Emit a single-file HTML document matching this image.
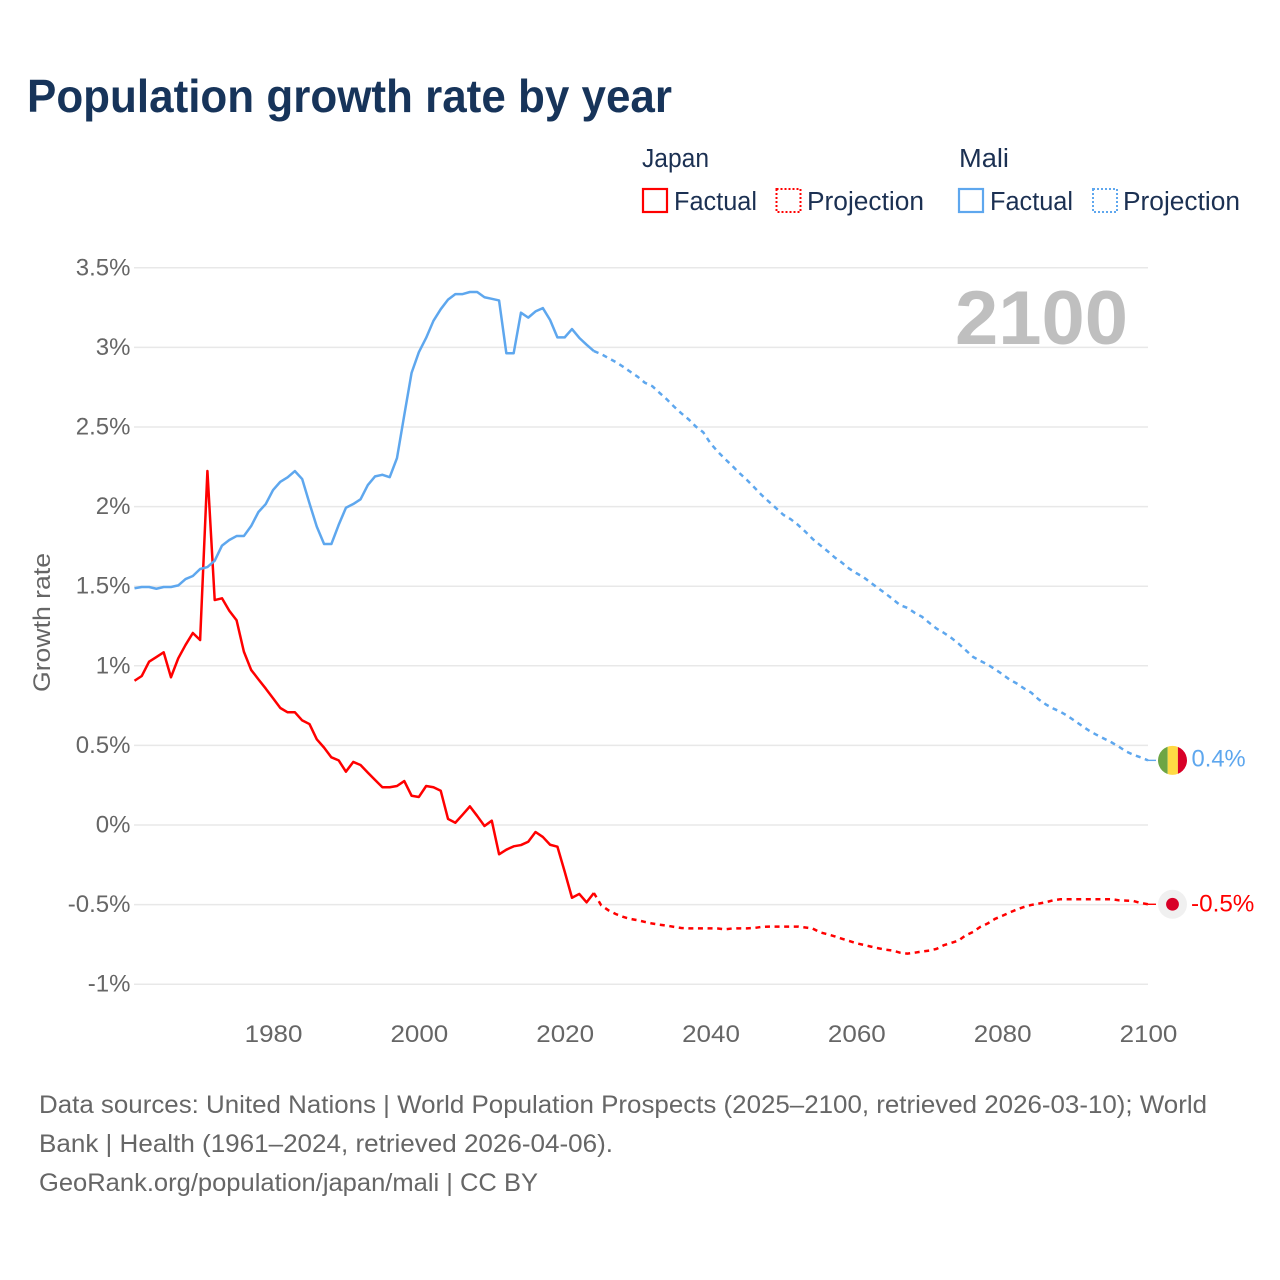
<!DOCTYPE html>
<html lang="en">
<head>
<meta charset="utf-8">
<title>Population growth rate by year</title>
<style>
html,body{margin:0;padding:0;background:#fff;}
svg{display:block;font-family:"Liberation Sans",sans-serif;}
</style>
</head>
<body>
<svg id="chart" xmlns="http://www.w3.org/2000/svg" width="1280" height="1280" viewBox="0 0 1280 1280">
  <rect x="0" y="0" width="1280" height="1280" fill="#fff"/>
  <text class="fit" x="27" y="112" font-size="46" font-weight="700" fill="#17345a" textLength="645" lengthAdjust="spacingAndGlyphs">Population growth rate by year</text>

  <g font-size="25.5" fill="#1b3052">
    <text x="642" y="167" textLength="67" lengthAdjust="spacingAndGlyphs">Japan</text>
    <rect x="643" y="189" width="24" height="23" fill="none" stroke="#ff0000" stroke-width="2.2"/>
    <text x="674" y="210" textLength="83" lengthAdjust="spacingAndGlyphs">Factual</text>
    <rect x="776.5" y="189" width="24" height="23" fill="none" stroke="#ff0000" stroke-width="2" stroke-dasharray="2 2"/>
    <text x="807" y="210" textLength="117" lengthAdjust="spacingAndGlyphs">Projection</text>
    <text x="959" y="167" textLength="50" lengthAdjust="spacingAndGlyphs">Mali</text>
    <rect x="959" y="189" width="24" height="23" fill="none" stroke="#5ea7ee" stroke-width="2.2"/>
    <text x="990" y="210" textLength="83" lengthAdjust="spacingAndGlyphs">Factual</text>
    <rect x="1093" y="189" width="24" height="23" fill="none" stroke="#5ea7ee" stroke-width="2" stroke-dasharray="2 2"/>
    <text x="1123" y="210" textLength="117" lengthAdjust="spacingAndGlyphs">Projection</text>
  </g>

  <g id="grid"></g>
  <g id="yticks" font-size="24.5" fill="#666"></g>
  <g id="xticks" font-size="24.5" fill="#666"></g>

  <text transform="translate(50,622.5) rotate(-90)" text-anchor="middle" font-size="24" fill="#666" textLength="139" lengthAdjust="spacingAndGlyphs">Growth rate</text>

  <text x="955" y="344" font-size="76" font-weight="700" fill="#bfbfbf" textLength="173" lengthAdjust="spacingAndGlyphs">2100</text>

  <g id="series"></g>
  <g id="markers"></g>

  <g font-size="25" fill="#666">
    <text x="39" y="1113" textLength="1168" lengthAdjust="spacingAndGlyphs">Data sources: United Nations | World Population Prospects (2025–2100, retrieved 2026-03-10); World</text>
    <text x="39" y="1152" textLength="574" lengthAdjust="spacingAndGlyphs">Bank | Health (1961–2024, retrieved 2026-04-06).</text>
    <text x="39" y="1191" textLength="499" lengthAdjust="spacingAndGlyphs">GeoRank.org/population/japan/mali | CC BY</text>
  </g>
</svg>
<script>
const firstFactualYear = 1961;
const firstProjectionYear = 2025;
const xTickLabels = [1980, 2000, 2020, 2040, 2060, 2080, 2100];
const yTickValues = [3.5, 3, 2.5, 2, 1.5, 1, 0.5, 0, -0.5, -1];
const yTickLabels = ['3.5%', '3%', '2.5%', '2%', '1.5%', '1%', '0.5%', '0%', '-0.5%', '-1%'];
const endLabels = ['-0.5%', '0.4%'];

const japanFactual = [
  0.906,0.936,1.026,1.055,1.085,0.928,1.047,1.131,1.206,1.162,
  2.224,1.413,1.424,1.346,1.286,1.089,0.974,0.915,0.857,0.796,
  0.735,0.708,0.708,0.657,0.634,0.538,0.486,0.425,0.406,0.335,
  0.396,0.377,0.329,0.283,0.237,0.237,0.245,0.276,0.184,0.176,
  0.245,0.237,0.215,0.038,0.014,0.065,0.117,0.057,-0.006,0.027,
  -0.184,-0.155,-0.134,-0.126,-0.105,-0.044,-0.075,-0.124,-0.136,-0.293,
  -0.457,-0.433,-0.486,-0.427
];
const japanProjection = [
  -0.504,-0.536,-0.559,-0.577,-0.59,-0.598,-0.609,-0.619,-0.626,-0.632,
  -0.64,-0.647,-0.649,-0.649,-0.649,-0.649,-0.65,-0.655,-0.65,-0.649,
  -0.649,-0.647,-0.64,-0.638,-0.638,-0.638,-0.638,-0.638,-0.644,-0.65,
  -0.674,-0.686,-0.699,-0.714,-0.728,-0.743,-0.753,-0.764,-0.774,-0.783,
  -0.789,-0.802,-0.808,-0.802,-0.795,-0.789,-0.778,-0.755,-0.741,-0.726,
  -0.693,-0.672,-0.64,-0.619,-0.59,-0.571,-0.55,-0.531,-0.515,-0.502,
  -0.494,-0.485,-0.473,-0.466,-0.466,-0.466,-0.466,-0.466,-0.466,-0.466,
  -0.466,-0.473,-0.475,-0.477,-0.49,-0.498
];
const maliFactual = [
  1.487,1.495,1.495,1.484,1.495,1.495,1.505,1.545,1.564,1.608,
  1.62,1.66,1.755,1.79,1.815,1.815,1.878,1.966,2.016,2.104,
  2.156,2.184,2.223,2.173,2.02,1.874,1.765,1.765,1.885,1.993,
  2.016,2.046,2.135,2.19,2.2,2.185,2.305,2.575,2.84,2.97,
  3.06,3.167,3.24,3.3,3.335,3.335,3.348,3.348,3.315,3.305,
  3.295,2.963,2.963,3.218,3.187,3.226,3.247,3.172,3.063,3.063,
  3.115,3.06,3.017,2.977
];
const maliProjection = [
  2.958,2.933,2.908,2.879,2.847,2.816,2.778,2.757,2.715,2.674,
  2.628,2.586,2.548,2.502,2.467,2.397,2.345,2.299,2.255,2.209,
  2.167,2.121,2.073,2.031,1.99,1.948,1.921,1.885,1.843,1.797,
  1.759,1.722,1.682,1.649,1.611,1.582,1.556,1.521,1.487,1.454,
  1.418,1.381,1.364,1.333,1.308,1.27,1.234,1.207,1.176,1.14,
  1.098,1.056,1.031,1.008,0.979,0.948,0.914,0.889,0.858,0.831,
  0.789,0.757,0.732,0.711,0.684,0.653,0.621,0.59,0.565,0.542,
  0.519,0.492,0.462,0.441,0.425,0.406
];

const NS = 'http://www.w3.org/2000/svg';
const RED = '#ff0000';
const BLUE = '#5ea7ee';
const xScale = function (year) { return 134.5 + (year - 1961) * (1148 - 134.5) / (2100 - 1961); };
const yScale = function (value) { return 825 - value * 159.2; };

function make(tag, attrs, parent) {
  const el = document.createElementNS(NS, tag);
  for (const k in attrs) el.setAttribute(k, attrs[k]);
  parent.appendChild(el);
  return el;
}
function pathFrom(values, startYear) {
  return values.map(function (v, i) {
    return (i ? 'L' : 'M') + xScale(startYear + i).toFixed(2) + ' ' + yScale(v).toFixed(2);
  }).join('');
}
function fitWidth(el, factor) {
  el.setAttribute('textLength', (el.getComputedTextLength() * factor).toFixed(1));
  el.setAttribute('lengthAdjust', 'spacingAndGlyphs');
}

const grid = document.getElementById('grid');
const yticks = document.getElementById('yticks');
const xticks = document.getElementById('xticks');
const series = document.getElementById('series');
const markers = document.getElementById('markers');

yTickValues.forEach(function (v, i) {
  const line = make('line', {x1: 134, x2: 1148, y1: yScale(v), y2: yScale(v), stroke: '#e8e8e8', 'stroke-width': 1.5}, grid);
  
  
  const t = make('text', {x: 130.5, y: yScale(v) + 7.5, 'text-anchor': 'end'}, yticks);
  
  
  t.textContent = yTickLabels[i];
  fitWidth(t, 0.98);
});

xTickLabels.forEach(function (year) {
  const t = make('text', {x: xScale(year) + 0.5, y: 1042, 'text-anchor': 'middle'}, xticks);
  
  
  t.textContent = year;
  fitWidth(t, 1.06);
});

function drawSeries(name, color, factual, projection) {
  const common = {fill: 'none', stroke: color, 'stroke-width': 2.5, 'stroke-linejoin': 'round'};
  const solid = make('path', Object.assign({d: pathFrom(factual, firstFactualYear)}, common), series);
  
  
  const last = factual[factual.length - 1];
  const dashed = make('path', Object.assign({
    d: pathFrom([last].concat(projection), firstProjectionYear - 1),
    'stroke-dasharray': '5 4.6'
  }, common), series);
  
  
  const endV = projection[projection.length - 1];
  const stub = make('line', {x1: 1148, x2: 1156, y1: yScale(endV), y2: yScale(endV), stroke: color, 'stroke-width': 1.4}, series);
  
  
}
drawSeries('japan', RED, japanFactual, japanProjection);
drawSeries('mali', BLUE, maliFactual, maliProjection);

const cx = 1172.5;
const jy = yScale(japanProjection[japanProjection.length - 1]);
const my = yScale(maliProjection[maliProjection.length - 1]);

const jBg = make('circle', {cx: cx, cy: jy, r: 14.5, fill: '#f0f0f0'}, markers);


const jDot = make('circle', {cx: cx, cy: jy, r: 6.4, fill: '#d80027'}, markers);



const defs = make('defs', {}, markers);
const clip = make('clipPath', {id: 'maliClip'}, defs);
make('circle', {cx: cx, cy: my, r: 14.5}, clip);
const mFlag = make('g', {'clip-path': 'url(#maliClip)'}, markers);


make('rect', {x: cx - 15, y: my - 15, width: 10.2, height: 30, fill: '#6da544'}, mFlag);
make('rect', {x: cx - 4.8, y: my - 15, width: 10.2, height: 30, fill: '#ffda44'}, mFlag);
make('rect', {x: cx + 5.4, y: my - 15, width: 10, height: 30, fill: '#d80027'}, mFlag);

const jLabel = make('text', {x: 1191, y: jy + 7, 'font-size': 24.5, fill: RED}, markers);


jLabel.textContent = endLabels[0];
fitWidth(jLabel, 0.99);

const mLabel = make('text', {x: 1191.5, y: my + 6, 'font-size': 24.5, fill: BLUE}, markers);


mLabel.textContent = endLabels[1];
fitWidth(mLabel, 0.97);
</script>
</body>
</html>
